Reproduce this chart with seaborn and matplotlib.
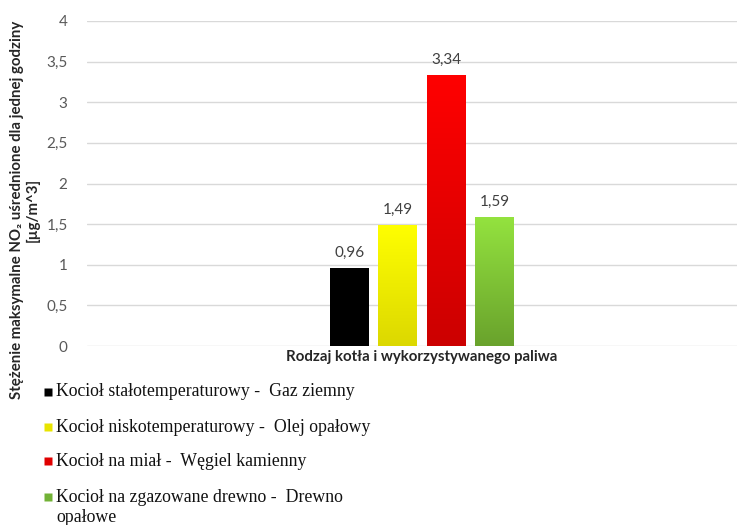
import numpy as np
import pandas as pd
import matplotlib
matplotlib.use("Agg")
import matplotlib.pyplot as plt
from matplotlib.colors import LinearSegmentedColormap
from matplotlib.lines import Line2D
import seaborn as sns

# Data
category = "Rodzaj kotła i wykorzystywanego paliwa"
series = [
    "Kocioł stałotemperaturowy -  Gaz ziemny",
    "Kocioł niskotemperaturowy -  Olej opałowy",
    "Kocioł na miał -  Węgiel kamienny",
    "Kocioł na zgazowane drewno -  Drewno\nopałowe",
]
values = [0.96, 1.49, 3.34, 1.59]
ytick_vals = [0, 0.5, 1, 1.5, 2, 2.5, 3, 3.5, 4]
ytick_labels = ["0", "0,5", "1", "1,5", "2", "2,5", "3", "3,5", "4"]

# Bar fills: (top colour, bottom colour)
grad = [("#000000", "#000000"),
        ("#ffff00", "#dcd800"),
        ("#ff0000", "#cc0000"),
        ("#94e33f", "#69a22c")]
legend_colors = ["#000000", "#e8e400", "#e00000", "#72b236"]

df = pd.DataFrame({"cat": [category] * 4, "series": series, "value": values})

sns.set_theme(style="white")
plt.rcParams["font.family"] = ["Lato", "DejaVu Sans"]

fig = plt.figure(figsize=(7.37, 5.25), dpi=100)
W, H = 737, 525
left, right, bottom, top = 87, 757, 346, 21
ax = fig.add_axes([left / W, (H - bottom) / H, (right - left) / W, (bottom - top) / H])

sns.barplot(data=df, x="cat", y="value", hue="series", hue_order=series,
            palette=[g[1] for g in grad], width=0.8, gap=0.2, ax=ax,
            legend=False, zorder=3)

ax.set_yticks(ytick_vals)
ax.set_yticklabels(ytick_labels, color="#595959", fontsize=11)
ax.tick_params(axis="y", length=0, pad=14)
ax.set_xticks([])
ax.grid(axis="y", color="#d9d9d9", linewidth=1.0, zorder=0)
for s in ax.spines.values():
    s.set_visible(False)
ax.set_xlabel(category, fontsize=10.8, fontweight="bold", color="#262626", labelpad=3)
ax.set_ylabel("")

# Vertical gradients inside each bar, plus value labels
for patch, (ctop, cbot), v in zip(ax.patches, grad, values):
    x0 = patch.get_x()
    w = patch.get_width()
    h = patch.get_height()
    cmap = LinearSegmentedColormap.from_list("g", [cbot, ctop])
    gimg = np.linspace(0, 1, 256).reshape(-1, 1)
    im = ax.imshow(gimg, cmap=cmap, origin="lower", aspect="auto",
                   extent=[x0, x0 + w, 0, h], zorder=3)
    im.set_clip_path(patch)
    patch.set_edgecolor("none")
    ax.text(x0 + w / 2, h + 0.1, f"{v:.2f}".replace(".", ","),
            ha="center", va="bottom", fontsize=11, color="#404040")

ax.set_xlim(-1.38, 1.38)
ax.set_ylim(0, 4)

# Axis title on the left
fig.text(25 / W, 1 - 210 / H,
         "Stężenie maksymalne NO₂ uśrednione dla jednej godziny\n[µg/m^3]",
         rotation=90, ha="center", va="center", ma="center",
         fontsize=10.8, fontweight="bold", color="#262626", linespacing=1.2)

# Legend below the plot: square key followed by the series name
legend_font = dict(fontsize=12.8, family="Liberation Serif", color="#111111")
row_y = [392, 427, 461, 497]
for name, col, yy in zip(series, legend_colors, row_y):
    fy = 1 - yy / H
    fig.add_artist(Line2D([48 / W], [fy], marker="s", linestyle="none",
                          markersize=5.5, markerfacecolor=col,
                          markeredgecolor="none", transform=fig.transFigure))
    for i, line in enumerate(name.split("\n")):
        fig.text(56 / W, 1 - (yy + 20 * i) / H, line, ha="left", va="center",
                 **legend_font)

fig.savefig("out.png", dpi=100)
